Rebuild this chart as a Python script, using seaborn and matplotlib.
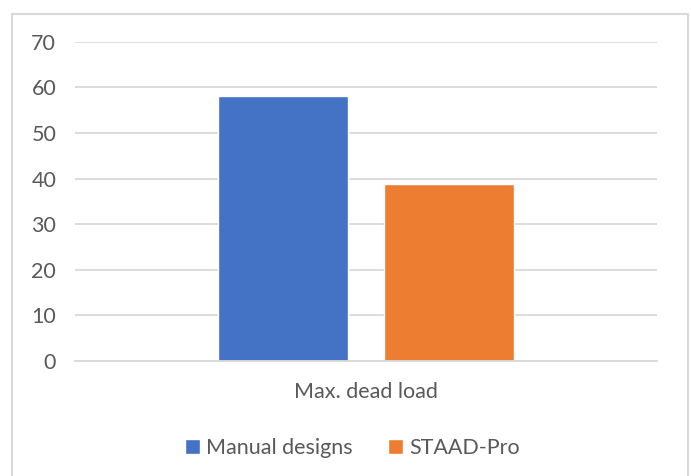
import matplotlib
matplotlib.use("Agg")
import matplotlib.pyplot as plt
import matplotlib.patches as mpatches
import seaborn as sns
import pandas as pd

categories = ["Max. dead load"]
series = ["Manual designs", "STAAD-Pro"]
values = [58, 38.8]
y_ticks = [0, 10, 20, 30, 40, 50, 60, 70]
colors = ["#4472C4", "#ED7D31"]

df = pd.DataFrame({
    "category": categories * len(series),
    "series": series,
    "value": values,
})

sns.set_theme(style="white")
plt.rcParams["font.family"] = ["Lato", "DejaVu Sans"]

FS = 15.5
fig = plt.figure(figsize=(6.91, 4.76), dpi=100)
ax = fig.add_axes([0.1085, 0.2416, 0.8425, 0.6708])

sns.barplot(data=df, x="category", y="value", hue="series",
            palette=colors, width=0.57, gap=0.22, ax=ax,
            saturation=1, legend=True)

ax.set_ylim(0, 70)
ax.set_xlim(-0.5, 0.5)
ax.set_yticks(y_ticks)
ax.yaxis.grid(True, color="#d9d9d9", linewidth=1.3)
ax.set_axisbelow(True)
for s in ["top", "right", "left"]:
    ax.spines[s].set_visible(False)
ax.spines["bottom"].set_color("#d9d9d9")
ax.spines["bottom"].set_linewidth(1.3)
ax.tick_params(axis="y", length=0, pad=13.5, labelsize=FS, labelcolor="#595959")
ax.tick_params(axis="x", length=0, pad=15, labelsize=FS, labelcolor="#595959")
ax.set_xlabel("")
ax.set_ylabel("")

handles, labels = ax.get_legend_handles_labels()
ax.legend(handles, labels, loc="center", bbox_to_anchor=(0.51, 0.059),
          bbox_transform=fig.transFigure, ncol=2, frameon=False,
          fontsize=FS, labelcolor="#595959", handlelength=0.7,
          handleheight=0.7, handletextpad=0.3, columnspacing=1.63)

# Chart-area border
fig.patches.append(mpatches.Rectangle((12 / 691, -0.01), 676 / 691, 1 - 14 / 476 + 0.01,
                                      transform=fig.transFigure, fill=False,
                                      edgecolor="#d9d9d9", linewidth=1.5))

fig.savefig("out.png", dpi=100)
